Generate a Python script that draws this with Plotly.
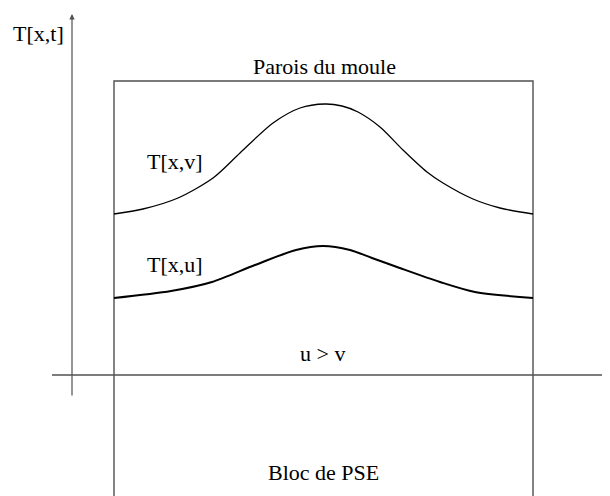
import plotly.graph_objects as go

# pixel-like coordinate space (x right, y down); page body adds an 8px margin
W, H = 610, 496
PAD = 8

# upper curve T[x,v]
curve_v_x = [114, 143, 178, 213, 240, 273, 300, 325, 342, 358, 380, 403, 427, 443, 473, 500, 533]
curve_v_y = [214, 209, 198, 178, 153, 123, 108, 104, 106, 112, 127, 150, 172, 183, 199, 208, 214]

# lower curve T[x,u]
curve_u_x = [114, 171, 212, 255, 296, 323, 350, 372, 397, 440, 475, 533]
curve_u_y = [298, 291, 282, 265, 250, 246, 250, 258, 267, 282, 292, 298]

# mould walls (open at the bottom)
box_x = [114, 114, 533, 533]
box_y = [510, 81, 81, 510]

# axes
x_axis_x = [52, 620]
x_axis_y = [375, 375]
y_axis_x = [72, 72]
y_axis_y = [397, 14]

labels = ["T[x,t]", "Parois du moule", "T[x,v]", "T[x,u]", "u > v", "Bloc de PSE", "x"]
label_x = [38, 324, 175, 175, 322, 323, 605]
label_y = [33, 66, 161, 264, 353, 472, 396]
label_anchor = ["center", "center", "center", "center", "center", "center", "left"]

axis_col = "#505050"
fig = go.Figure()

fig.add_trace(go.Scatter(x=box_x, y=box_y, mode="lines",
                         line=dict(color=axis_col, width=1.4)))
fig.add_trace(go.Scatter(x=x_axis_x, y=x_axis_y, mode="lines",
                         line=dict(color=axis_col, width=1.4)))
fig.add_trace(go.Scatter(x=curve_v_x, y=curve_v_y, mode="lines",
                         line=dict(color="black", width=1.3, shape="spline", smoothing=0.8)))
fig.add_trace(go.Scatter(x=curve_u_x, y=curve_u_y, mode="lines",
                         line=dict(color="black", width=2, shape="spline", smoothing=0.8)))

# y axis with arrow head
fig.add_annotation(x=y_axis_x[1], y=y_axis_y[1], ax=y_axis_x[0], ay=y_axis_y[0],
                   xref="x", yref="y", axref="x", ayref="y", text="",
                   showarrow=True, arrowhead=2, arrowsize=0.9, arrowwidth=1.2,
                   arrowcolor=axis_col)

for t, lx, ly, anc in zip(labels, label_x, label_y, label_anchor):
    fig.add_annotation(x=lx, y=ly, text=t, showarrow=False, xanchor=anc,
                       font=dict(family="Liberation Serif", size=22, color="black"))

fig.update_xaxes(range=[PAD, W + PAD], visible=False, fixedrange=True)
fig.update_yaxes(range=[H + PAD, PAD], visible=False, fixedrange=True)
fig.update_layout(width=W, height=H, margin=dict(l=0, r=0, t=0, b=0),
                  showlegend=False, plot_bgcolor="white", paper_bgcolor="white")

fig.write_html("out.html")
